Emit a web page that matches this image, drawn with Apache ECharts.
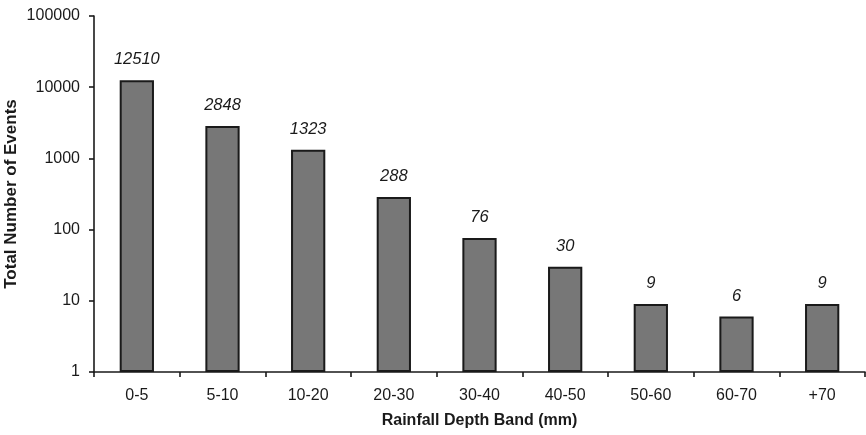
<!DOCTYPE html>
<html><head><meta charset="utf-8">
<script src="https://cdn.jsdelivr.net/npm/echarts@6/dist/echarts.min.js"></script>
<style>html,body{margin:0;padding:0;background:#fff}#c{width:866px;height:435px}</style>
</head><body><div id="c"></div>
<script>
const categories = ['0-5','5-10','10-20','20-30','30-40','40-50','50-60','60-70','+70'];
const events = [12510, 2848, 1323, 288, 76, 30, 9, 6, 9];
const yTitle = 'Total Number of Events';
const xTitle = 'Rainfall Depth Band (mm)';

const chart = echarts.init(document.getElementById('c'), null, {renderer:'canvas'});
const font = 'Liberation Sans, Arial, sans-serif';
chart.setOption({
  animation:false,
  grid:{left:94, right:1, top:16, bottom:63, containLabel:false, outerBoundsMode:'none'},
  xAxis:{
    type:'category', data:categories,
    axisLine:{lineStyle:{color:'#1a1a1a', width:1.6}},
    axisTick:{show:true, alignWithLabel:false, length:5, lineStyle:{color:'#1a1a1a', width:1.6}},
    axisLabel:{color:'#1a1a1a', fontFamily:font, fontSize:16, margin:16},
    name:xTitle, nameLocation:'middle', nameGap:41, nameMoveOverlap:false,
    nameTextStyle:{fontFamily:font, fontSize:16, fontWeight:'bold', color:'#1a1a1a'}
  },
  yAxis:{
    type:'log', logBase:10, min:1, max:100000,
    axisLine:{show:true, lineStyle:{color:'#1a1a1a', width:1.6}},
    axisTick:{show:true, length:5, lineStyle:{color:'#1a1a1a', width:1.6}},
    splitLine:{show:false},
    minorTick:{show:false},
    axisLabel:{color:'#1a1a1a', fontFamily:font, fontSize:16, margin:14, formatter:v=>String(Math.round(v))},
    name:yTitle, nameLocation:'middle', nameGap:74, nameRotate:90, nameMoveOverlap:false,
    nameTextStyle:{fontFamily:font, fontSize:17, fontWeight:'bold', color:'#1a1a1a'}
  },
  series:[{
    type:'bar', data:events, barWidth:'40%',
    itemStyle:{color:'#777777', borderColor:'#1a1a1a', borderWidth:2},
    label:{show:true, position:'top', distance:12, fontFamily:font, fontSize:16.5, fontStyle:'italic', color:'#1a1a1a'}
  }]
});
</script></body></html>
